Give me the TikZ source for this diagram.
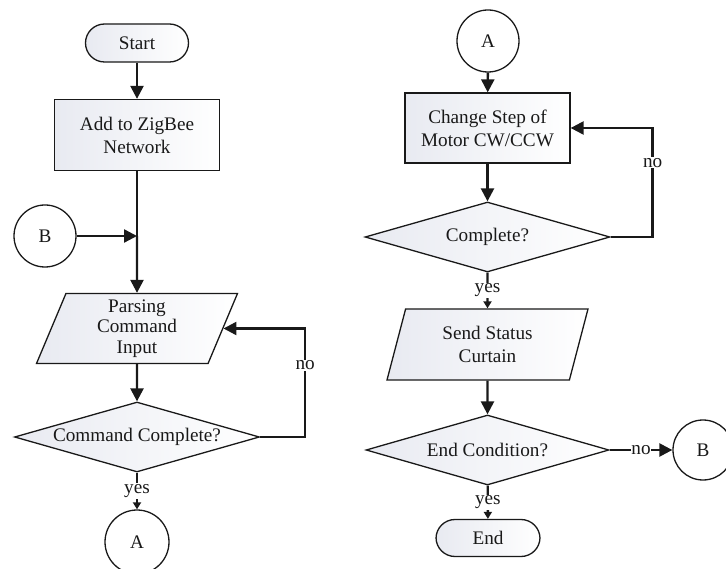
\documentclass[tikz,border=0pt]{standalone}
\usepackage{fontspec}
\setmainfont{Liberation Serif}
\usetikzlibrary{shapes.geometric,arrows.meta}
\definecolor{shL}{RGB}{232,234,241}
\definecolor{ink}{RGB}{25,25,25}
\begin{document}
\begin{tikzpicture}[x=1pt,y=-1pt,
  font=\fontsize{19.2}{23}\selectfont,
  every node/.style={text=ink},
  box/.style={draw=ink, line width=1.3pt, left color=shL, right color=white},
  proc/.style={box, rectangle, minimum width=165pt, minimum height=71pt, inner sep=0pt, align=center},
  term/.style={box, rectangle, rounded corners=19pt, minimum width=103pt, minimum height=38pt, inner sep=0pt},
  conn/.style={circle, draw=ink, line width=1.3pt, fill=white, minimum size=62pt, inner sep=0pt},
  io/.style={box, trapezium, trapezium left angle=63, trapezium right angle=117, trapezium stretches body, minimum width=201pt, minimum height=70pt, inner sep=0pt, align=center},
  dec/.style={box, diamond, aspect=3.5, minimum width=245pt, minimum height=70pt, inner sep=0pt},
  line/.style={draw=ink, line width=2.4pt},
  arr/.style={line, -{Triangle[length=13pt,width=13pt]}},
  sarr/.style={line, -{Triangle[length=7pt,width=8pt]}},
  lbl/.style={fill=white, inner sep=1pt}]
\useasboundingbox (0,0) rectangle (726,569);
% left column
\node[term] (start) at (137,43) {Start};
\node[proc] (add) at (137,135) {Add to ZigBee\\Network};
\node[conn] (bl) at (45,236) {B};
\coordinate (j) at (137,236);
\node[io, font=\fontsize{19.2}{20.5}\selectfont] (parse) at (137,328.5) {Parsing\\Command\\Input};
\node[dec] (cc) at (137,437) {Command Complete?};
\node[conn, minimum size=64pt] (al) at (137,542) {A};
% right column
\node[conn] (ar) at (488,41) {A};
\node[proc, minimum height=70pt] (step) at (487.5,128) {Change Step of\\Motor CW/CCW};
\node[dec] (comp) at (487.5,237) {Complete?};
\node[io, minimum height=71pt] (send) at (487.5,344.5) {Send Status\\Curtain};
\node[dec, minimum width=243pt] (endc) at (487.5,450) {End Condition?};
\node[conn, minimum size=60pt] (br) at (703,450) {B};
\node[term, minimum width=104pt, minimum height=37pt] (end) at (488,538) {End};
% connectors left
\draw[arr] (start) -- (add);
\draw[line] (add) -- (j);
\draw[arr] (bl) -- (j);
\draw[arr] (j) -- (parse);
\draw[arr] (parse) -- (cc);
\draw[arr] (cc.east) -- ++(45,0) |- node[pos=0.33, lbl]{no} (parse.east);
\draw[sarr] (cc) -- node[lbl]{yes} (al);
% connectors right
\draw[arr] (ar) -- (step);
\draw[arr] (step) -- (comp);
\draw[arr] (comp.east) -- ++(42,0) |- node[pos=0.34, lbl]{no} (step.east);
\draw[sarr] (comp) -- node[lbl]{yes} (send);
\draw[arr] (send) -- (endc);
\draw[arr] (endc) -- node[lbl, inner sep=0.5pt, pos=0.5]{no} (br);
\draw[sarr] (endc) -- node[lbl]{yes} (end);
\end{tikzpicture}
\end{document}
